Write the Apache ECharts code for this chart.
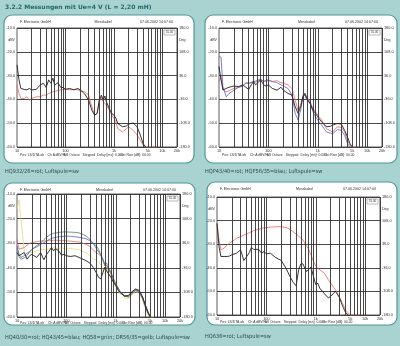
<!DOCTYPE html>
<html>
<head>
<meta charset="utf-8">
<script src="https://cdn.jsdelivr.net/npm/echarts@6/dist/echarts.min.js"></script>
<style>
  html, body { margin: 0; padding: 0; background: #a8d3d1; }
  #chart { width: 400px; height: 346px; }
</style>
</head>
<body>
<div id="chart"></div>
<script>
// --- Daten ---
const freqs = [10, 11, 12, 14, 16, 18, 20, 25, 30, 35, 40, 45, 50, 55, 60, 70, 80, 90,
  100, 120, 150, 180, 200, 250, 300, 350, 400, 450, 500, 550, 600, 650, 700, 800, 900,
  1000, 1100, 1200, 1500, 1800, 2000, 2500, 3000, 3500, 4000, 4500, 5000, 6000, 7000, 8000];

const freqTicks = [10, 100, 1000, 5000, 10000, 20000];
const freqTickLabels = ['10', '100', '1k', '5k', '10k', '20k'];

// Panel 1: HQ932/26 = rot, Luftspule = sw
const p1Red = [-34, -37.5, -39.6, -39.6, -38.9, -40.3, -39.6,
  -38.9, -38.9, -38.2, -38.2, -37.5, -37.2, -36.8, -36.3, -36.3, -36, -35.8,
  -35.8, -36, -35.8, -36, -36.3, -36.8, -38.2, -43.1, -46.6, -45.9, -40.3, -39, -41, -40.3, -42.4, -44.5, -46.6,
  -48, -49.4, -52.3, -53.7, -52.3, -51.5, -53, -55, -57.2, -59.3, -60, -60, -60, -60, -60];
const p1Black = [-25.5, -31.8, -35.4, -35.8, -36, -35.4, -36,
  -35.8, -34, -33.2, -35, -31.8, -33.2, -31.1, -34, -33, -35, -35,
  -35.8, -35.4, -36, -35.4, -36, -37.7, -40.3, -44.5, -46.6, -45.9, -40.3, -38.2, -40.3, -38.6, -41, -43.8, -45.9,
  -46.6, -48, -50.1, -51.5, -51.2, -50.4, -49.9, -51.5, -55, -58.6, -60, null, null, null, null];

// Panel 2: HQP43/40 = rot, HQP56/35 = blau, Luftspule = sw
const p2Red = [-32.5, -30.4, -36, -36.8, -36.4, -35.8, -35.4,
  -34.9, -34.4, -33.2, -33.5, -33, -32.5, -32.8, -32.1, -31.8, -32.5, -32.3,
  -32.1, -32.5, -32.1, -33, -33.2, -33.9, -35.4, -40.3, -44.5, -42.4, -38.2, -37.5, -38.9, -39.6, -41, -43.8, -45.2,
  -46.6, -47.7, -48.7, -52.3, -53.2, -53.7, -51.5, -51.8, -53.7, -57.2, -59.3, -60, -60, null, null];
const p2Blue = [-22, -22.3, -34.6, -38.9, -37.5, -36.8, -36.1,
  -34.9, -34.4, -33, -33.2, -32.8, -32.5, -32.3, -31.8, -31.5, -32.5, -32,
  -31.8, -32.5, -33, -33.9, -34.4, -35.4, -38.2, -45.9, -48.7, -44.5, -38.9, -38.2, -40.3, -41, -41.7, -45.2, -47.3,
  -48.7, -49.8, -50.8, -53.7, -54.2, -54.4, -52.7, -53, -55.1, -58.6, -60, null, null, null, null];
const p2Black = [-26.2, -31.8, -36, -35.4, -34.9, -34.6, -34.4,
  -34.6, -33.9, -34.9, -35.8, -33.9, -32.5, -33.9, -33.2, -31.8, -33.9, -34.4,
  -33.9, -35.4, -36.1, -34.9, -36.1, -37.5, -38.2, -43.1, -45.9, -43.1, -38.9, -37.5, -39.6, -40.3, -41.7, -44.5, -45.9,
  -47.3, -48.5, -49.4, -51.5, -51.3, -50.8, -50.1, -50.4, -53, -55.8, -58.6, -60, null, null, null];

// Panel 3: HQ40/30 = rot, HQ43/45 = blau, HQ58 = grün, DR56/35 = gelb, Luftspule = sw
const p3Red = [-28.4, -32.4, -33.1, -31.8, -30.8, -30, -29.8,
  -29.4, -29.1, -29.1, -29.1, -28.8, -29.1, -28.8, -29.1, -28.8, -29.1, -28.8,
  -29.1, -29.1, -29.4, -29.5, -29.8, -30.4, -31.4, -32.7, -33.8, -34.5, -35.1, -36.7, -39.2, -38.5, -40.5, -42.5, -45.2,
  -47.2, -48.6, -49.7, -51.5, -51.9, -51, -49.2, -49.9, -52.6, -56, -58.7, -60, null, null, null];
const p3Blue = [-31.1, -34.5, -35.8, -35.1, -34, -33.5, -32.5,
  -31.5, -30.5, -29.8, -29, -28.5, -28, -27.8, -27.6, -27.4, -27.3, -27.2,
  -27.1, -27.2, -27.4, -27.6, -27.8, -28.2, -29, -30.2, -32, -33.6, -34.5, -36.5, -38.5, -37.9, -39.8, -41.9, -44.5,
  -46.6, -47.9, -49.2, -51.3, -51.5, -50.6, -48.8, -49.6, -51.9, -55.3, -58, -60, null, null, null];
const p3Green = [-32, -35.5, -36.5, -36, -35, -33.5, -32.5,
  -31, -30, -28.5, -27.5, -26.8, -26.3, -26, -25.8, -25.6, -25.5, -25.4,
  -25.4, -25.5, -25.6, -25.8, -26.2, -27, -28.5, -30, -31, -32.5, -35, -37, -39, -38, -40, -42, -44.5,
  -46.5, -48, -49.5, -51.5, -51.8, -51, -49.2, -50, -52.5, -56, -58.5, -60, null, null, null];
const p3Yellow = [-16, -12.5, -20, -33.1, -34.5, -33.8, -33.8,
  -33.1, -32.7, -32.4, -32.7, -32.2, -32.2, -31.8, -32.2, -32.2, -31.8, -32.2,
  -32.4, -32.2, -32.4, -32.7, -33.1, -33.8, -35.1, -36.2, -36.7, -37.6, -38.9, -41.2, -42.5, -40.5, -41.9, -43.9, -45.9,
  -47.9, -49.2, -50.2, -52.3, -52.6, -51.5, -49.6, -50.6, -53.3, -56.6, -59.3, -60, -60, null, null];
const p3Black = [-33.8, -35.1, -35.8, -33.8, -36.5, -35.1, -34.5,
  -35.8, -33.8, -36.7, -34.5, -33.1, -31.8, -33.1, -32.2, -33.1, -34.9, -34.5,
  -35.1, -35.4, -35.1, -35.8, -36.2, -37.1, -38.1, -39.8, -41.9, -43.9, -44.5, -41.9, -39.8, -41.2, -41.9, -43.9, -45.9,
  -47.2, -48.8, -49.9, -51.5, -51.3, -50.2, -48.6, -49.2, -51.9, -55.3, -58, -60, null, null, null];

// Panel 4: HQ636 = rot, Luftspule = sw
const p4Red = [-21.2, -28.2, -32.4, -31.7, -30.3, -29.6, -28.9,
  -27.5, -26.8, -26.1, -25.7, -25.1, -24.7, -24.3, -24, -23.7, -23.3, -23,
  -22.9, -22.8, -22.6, -22.6, -22.6, -22.9, -23.7, -24.7, -25.7, -26.5, -27.5, -28.2, -29.6, -30.8, -31.7, -34.5, -37.3,
  -39.2, -40.2, -40.9, -42.3, -45.1, -46.5, -49.3, -52.4, -55.2, -57.7, -59.1, -60, -60, -60, -60];
const p4Black = [-21.2, -31, -35.2, -35.2, -35.2, -35, -34.5,
  -33.8, -32.4, -36.9, -35.2, -33.6, -31.3, -32.2, -32.7, -32.2, -33.8, -33.1,
  -34.1, -33.8, -35.5, -36.4, -36.9, -40.2, -43.7, -46.2, -47.6, -40.9, -38.3, -38.3, -40.2, -41.6, -41.1, -39.7, -43.7,
  -47.2, -46.5, -48.6, -51, -52.8, -52.1, -50, -52.4, -56.3, -58.8, -60, null, null, null, null];

// --- Layout / Stil ---
const RED = '#e66a60', BLUE = '#5a62c8', GREEN = '#4f7f6a', YELLOW = '#e4da74', BLACK = '#1e1e1e';
const TXT = 'Liberation Sans';

const panels = [
  { box: [4, 15, 190, 148], plot: [17, 28, 160, 119], footGap: 8, caption: 'HQ932/26=rot; Luftspule=sw', capPos: [5, 172],
    curves: [[p1Red, RED], [p1Black, BLACK]] },
  { box: [205, 15, 192, 148], plot: [219, 28, 163, 119], footGap: 8, caption: 'HQP43/40=rot; HQP56/35=blau; Luftspule=sw', capPos: [205, 172],
    curves: [[p2Red, RED], [p2Blue, BLUE], [p2Black, BLACK]] },
  { box: [4, 183, 191, 142], plot: [17, 194, 163, 123], footGap: 6, caption: 'HQ40/30=rot; HQ43/45=blau; HQ58=grün; DR56/35=gelb; Luftspule=sw', capPos: [5, 338],
    curves: [[p3Yellow, YELLOW], [p3Red, RED], [p3Blue, BLUE], [p3Green, GREEN], [p3Black, BLACK]] },
  { box: [207, 182, 190, 143], plot: [217, 197, 163, 118], footGap: 7.5, caption: 'HQ636=rot; Luftspule=sw', capPos: [205, 337],
    curves: [[p4Red, RED], [p4Black, BLACK]] }
];

// vertikale Gitterlinien (1..9 pro Dekade)
const gridFreqs = [];
[10, 100, 1000, 10000].forEach(d => {
  for (let m = 1; m <= 9; m++) {
    const f = d * m;
    if (f > 10 && f <= 20000) gridFreqs.push(f);
  }
});

const fmtFreq = v => {
  const k = freqTicks.findIndex(t => Math.abs(Math.log10(t) - Math.log10(v)) < 0.01);
  return k >= 0 ? freqTickLabels[k] : '';
};

const txt = (x, y, text, size, align, extra) => ({
  type: 'text', x, y, z: 100, silent: true,
  style: Object.assign({ text, fontSize: size, fontFamily: TXT, fill: '#333', align: align || 'left', verticalAlign: 'middle' }, extra || {})
});

const option = {
  backgroundColor: '#a8d3d1',
  animation: false,
  grid: [], xAxis: [], yAxis: [], series: [],
  graphic: [
    txt(5, 7, '3.2.2 Messungen mit Ue=4 V (L = 2,20 mH)', 6, 'left', { fontFamily: 'DejaVu Sans', fontWeight: 'bold', fill: '#1d6a68' })
  ]
};

panels.forEach((p, i) => {
  const [bx, by, bw, bh] = p.box;
  const [gl, gt, gw, gh] = p.plot;

  option.graphic.push({
    type: 'rect', z: -10, silent: true,
    shape: { x: bx, y: by, width: bw, height: bh, r: 8 },
    style: { fill: '#ffffff', stroke: '#4f9896', lineWidth: 1.2 }
  });

  // Kopfzeile
  option.graphic.push(txt(gl + 3, by + 7, 'F. Electronic GmbH', 3.6));
  option.graphic.push(txt(gl + gw / 2 + 6, by + 7, 'Messkabel', 3.6, 'center'));
  option.graphic.push(txt(gl + gw - 4, by + 7, '07.06.2002 14:07:00', 3.6, 'right'));

  // Einheiten
  option.graphic.push(txt(gl - 2, gt + gh * 0.1, 'dBV', 3.6, 'right'));
  option.graphic.push(txt(gl + gw + 2, gt + gh * 0.1, 'Deg', 3.6, 'left'));

  // kleines Feld oben rechts
  option.graphic.push({
    type: 'rect', z: 90, silent: true,
    shape: { x: gl + gw - 13, y: gt + 2, width: 11, height: 5 },
    style: { fill: '#fff', stroke: '#777', lineWidth: 0.5 }
  });
  option.graphic.push(txt(gl + gw - 7.5, gt + 4.6, '55.00', 3, 'center'));

  // Fußzeile
  const fy = gt + gh + p.footGap;
  option.graphic.push(txt(gl + 3, fy, 'Pos: LS/DTA.ob', 3.4));
  option.graphic.push(txt(gl + gw * 0.19, fy, 'Ch A', 3.4));
  option.graphic.push(txt(gl + gw * 0.24, fy, 'dBV/Hz', 3.4));
  option.graphic.push(txt(gl + gw * 0.29, fy, '1/3 Octave', 3.4));
  option.graphic.push(txt(gl + gw * 0.41, fy, 'Stepped', 3.4));
  option.graphic.push(txt(gl + gw * 0.5, fy, 'Delay [ms]: 0.000', 3.4));
  option.graphic.push(txt(gl + gw * 0.645, fy, 'Oct Rise [dB]: 00.00', 3.4));

  // Bildunterschrift
  option.graphic.push(txt(p.capPos[0], p.capPos[1], p.caption, 5.6, 'left',
    { fontFamily: 'DejaVu Sans Condensed', fill: '#2d4a4a' }));

  option.grid.push({
    left: gl, top: gt, width: gw, height: gh,
    show: true, backgroundColor: '#ffffff', borderColor: '#333', borderWidth: 0.8
  });

  option.xAxis.push({
    type: 'log', logBase: 10, gridIndex: i, min: 10, max: 20000,
    axisLine: { show: false }, axisTick: { show: false }, splitLine: { show: false },
    axisLabel: { customValues: freqTicks, formatter: fmtFreq, fontSize: 3.8, fontFamily: TXT, color: '#333', margin: 2 }
  });

  option.yAxis.push({
    type: 'value', gridIndex: i, min: -60, max: -10, interval: 10,
    axisLine: { show: false }, axisTick: { show: false },
    axisLabel: { formatter: v => v.toFixed(1), fontSize: 3.8, fontFamily: TXT, color: '#333', margin: 2 },
    splitLine: { show: true, lineStyle: { color: '#333', width: 0.9 } }
  });
  // Phase (nur Beschriftung)
  option.yAxis.push({
    type: 'value', gridIndex: i, position: 'right', min: 0, max: 360, interval: 72,
    axisLine: { show: false }, axisTick: { show: false }, splitLine: { show: false },
    axisLabel: { formatter: v => (v - 180).toFixed(1), fontSize: 3.8, fontFamily: TXT, color: '#333', margin: 2 }
  });

  // Gitterlinien über markLine
  option.series.push({
    type: 'line', xAxisIndex: i, yAxisIndex: 2 * i, z: 1, silent: true,
    data: [[10, -60]], showSymbol: false, lineStyle: { width: 0 },
    markLine: {
      silent: true, symbol: 'none', label: { show: false }, animation: false,
      lineStyle: { color: '#333', type: 'solid', width: 0.9 },
      data: gridFreqs.map(f => ({ xAxis: f }))
    }
  });

  p.curves.forEach(([vals, color]) => {
    option.series.push({
      type: 'line', xAxisIndex: i, yAxisIndex: 2 * i, z: 3, silent: true,
      showSymbol: false, symbol: 'none',
      lineStyle: { color, width: color === BLACK ? 0.9 : 0.8 },
      data: freqs.map((f, k) => [f, vals[k]]).filter(d => d[1] !== null)
    });
  });
});

const chart = echarts.init(document.getElementById('chart'), null, { renderer: 'canvas' });
chart.setOption(option);
</script>
</body>
</html>
